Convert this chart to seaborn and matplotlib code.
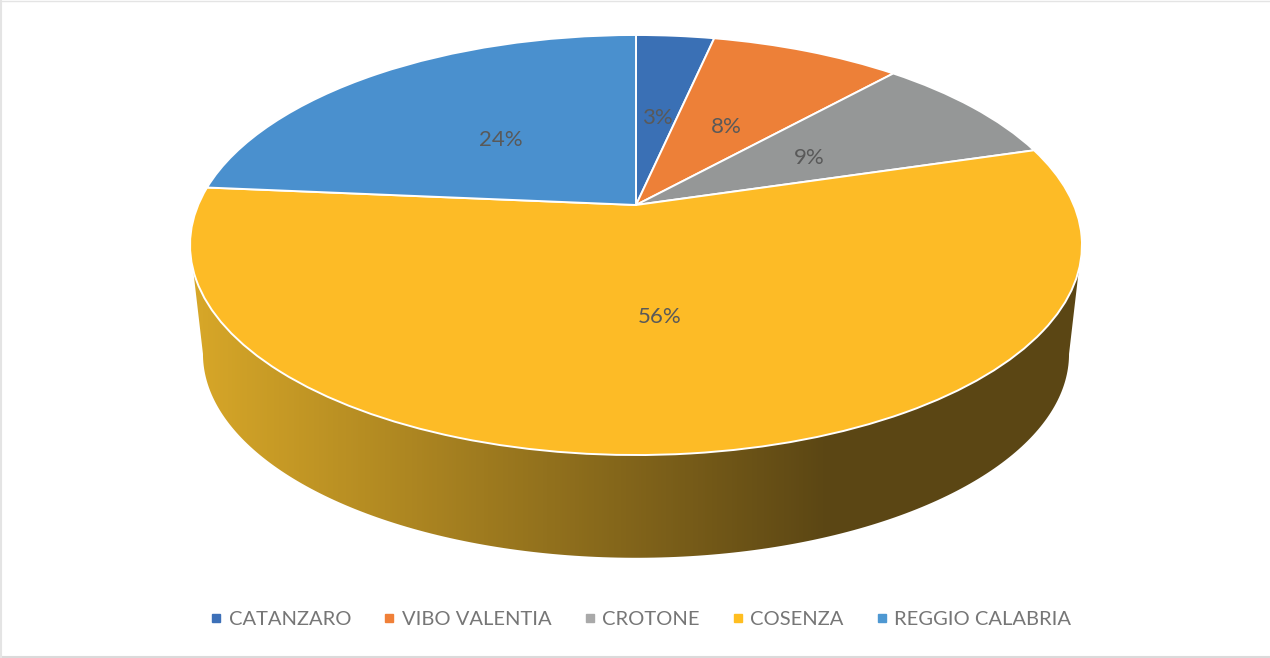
import matplotlib

matplotlib.use("Agg")
import matplotlib.pyplot as plt
import numpy as np
import seaborn as sns
from matplotlib.lines import Line2D
from matplotlib.patches import Polygon
from matplotlib.transforms import Affine2D, Transform

# provinces and their shares (%), clockwise from 12 o'clock
provinces = ["CATANZARO", "VIBO VALENTIA", "CROTONE", "COSENZA", "REGGIO CALABRIA"]
shares = [3.4, 8.3, 8.7, 56.0, 23.6]

slice_colors = ["#3A70B5", "#ED8038", "#959797", "#FDBB26", "#4A90CE"]
legend_colors = ["#3D70B8", "#F08038", "#A9A9A9", "#FFBE20", "#4E98D2"]

# tilted disc: unit circle seen in perspective, in pixels of the picture
CX = 636
TOP_CY = 205
BASE_CY = 315
BASE_SCALE = 0.971
A = 437.8
B = 202.4
K = 0.1905


def project(xy, cy=TOP_CY, scale=1.0):
    x, y = xy[:, 0], xy[:, 1]
    w = 1 + K * y
    return np.column_stack((CX + scale * A * x / w, cy - scale * B * y / w))


class Tilt(Transform):
    input_dims = 2
    output_dims = 2

    def transform_non_affine(self, values):
        return project(np.asarray(values))


def rim(start, stop, cy=TOP_CY, scale=1.0):
    t = np.radians(np.linspace(start, stop, 200))
    return project(np.column_stack((np.cos(t), np.sin(t))), cy, scale)


sns.set_theme(style="white")
plt.rcParams["font.family"] = ["Lato", "DejaVu Sans"]

fig = plt.figure(figsize=(12.7, 6.58), dpi=100)
ax = fig.add_axes([0, 0, 1, 1])

tilt = Tilt() + ax.transData
# labels sit a little lower than the exact centre
tilt_text = Tilt() + Affine2D().translate(0, 3) + ax.transData

wedges, _, pct_labels = ax.pie(
    shares,
    colors=slice_colors,
    startangle=90,
    counterclock=False,
    autopct="%.0f%%",
    pctdistance=0.49,
    wedgeprops={"edgecolor": "white", "linewidth": 1.4, "transform": tilt, "zorder": 3},
    textprops={"transform": tilt_text, "color": "#595959", "fontsize": 16, "zorder": 4},
)

ax.set_aspect("auto")
ax.axis("off")

# side wall of the disc
wall = np.vstack((rim(197.6, 342.4), rim(349, 191, BASE_CY, BASE_SCALE)))
wall_cmap = sns.blend_palette(["#D6A628", "#5B4614"], as_cmap=True)
shade = np.clip((np.arange(1270) - 200) / 630, 0, 1)[None, :]
img = ax.imshow(
    shade,
    cmap=wall_cmap,
    extent=(0, 1270, 658, 0),
    aspect="auto",
    zorder=1,
)
img.set_clip_path(Polygon(wall, transform=ax.transData))
ax.set_xlim(0, 1270)
ax.set_ylim(658, 0)

handles = [
    Line2D([], [], linestyle="none", marker="s", markersize=6, color=c)
    for c in legend_colors
]
ax.legend(
    handles,
    provinces,
    ncol=5,
    loc="center",
    bbox_to_anchor=(641.5 / 1270, 1 - 619.5 / 658),
    frameon=False,
    fontsize=14.5,
    labelcolor="#767676",
    handlelength=0.45,
    handletextpad=0.4,
    columnspacing=1.66,
)

# frame of the original picture
ax.plot([0, 1270], [656.5, 656.5], color="#DADADA", linewidth=1.5, zorder=5)
ax.plot([0, 1270], [0.5, 0.5], color="#E4E4E4", linewidth=1, zorder=5)
ax.plot([1, 1], [0, 658], color="#E4E4E4", linewidth=1.5, zorder=5)

fig.savefig("out.png", dpi=100)
